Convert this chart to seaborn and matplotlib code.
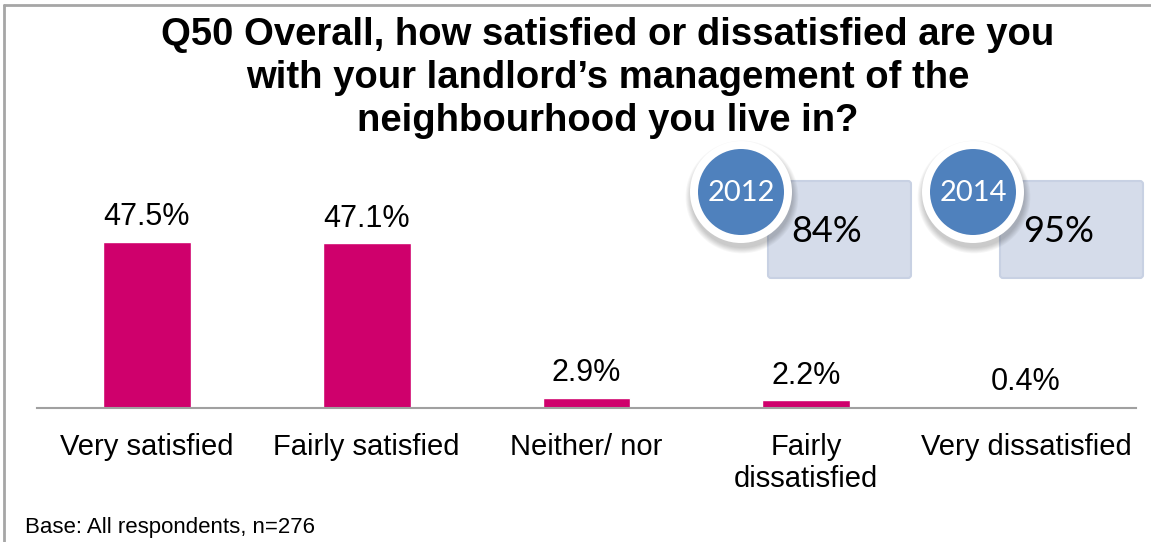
import matplotlib
matplotlib.use("Agg")
import matplotlib.pyplot as plt
import seaborn as sns
import pandas as pd
from matplotlib.patches import Circle, FancyBboxPatch

# Survey responses (percent of respondents)
categories = ["Very satisfied", "Fairly satisfied", "Neither/ nor",
              "Fairly\ndissatisfied", "Very dissatisfied"]
percentages = [47.5, 47.1, 2.9, 2.2, 0.4]

# Overall satisfaction by survey year
years = ["2012", "2014"]
overall_satisfaction = [84, 95]

title = ("Q50 Overall, how satisfied or dissatisfied are you\n"
         "with your landlord\u2019s management of the\n"
         "neighbourhood you live in?")
base_note = "Base: All respondents, n=276"

sns.set_theme(style="white")
plt.rcParams["font.family"] = ["Liberation Sans", "DejaVu Sans"]
plt.rcParams["text.color"] = "black"

W, H = 1151, 542
fig = plt.figure(figsize=(W / 100, H / 100), dpi=100)
fig.patch.set_facecolor("white")

ax = fig.add_axes([37 / W, 1 - 408 / H, (1136 - 37) / W, (408 - 150) / H])
df = pd.DataFrame({"category": categories, "pct": percentages})
sns.barplot(data=df, x="category", y="pct", color="#CF006C", width=0.4,
            saturation=1, ax=ax)
ax.set_xlim(-0.5, 4.5)
ax.set_ylim(0, 73.8)
ax.set_xlabel("")
ax.set_ylabel("")
ax.set_yticks([])
for side in ["top", "left", "right"]:
    ax.spines[side].set_visible(False)
ax.spines["bottom"].set_color("#A0A0A0")
ax.spines["bottom"].set_linewidth(1.5)
ax.tick_params(axis="x", length=0, pad=18, labelsize=21, colors="black")
ax.set_facecolor("none")

for bar, v in zip(ax.patches, percentages):
    ax.annotate(f"{v}%", (bar.get_x() + bar.get_width() / 2, v),
                xytext=(0, 12), textcoords="offset points",
                ha="center", va="baseline", fontsize=22, color="black")

# Overlay in pixel units for badges and frame
ov = fig.add_axes([0, 0, 1, 1], zorder=5)
ov.set_xlim(0, W)
ov.set_ylim(H, 0)
ov.axis("off")
ov.patch.set_alpha(0)

for i, (yr, val) in enumerate(zip(years, overall_satisfaction)):
    cx, cy = 741 + i * 232, 192
    box = FancyBboxPatch((cx + 27, 181), 143, 97,
                         boxstyle="round,pad=0,rounding_size=3",
                         facecolor="#D5DCEA", edgecolor="#C8D1E3", lw=1.5)
    ov.add_patch(box)
    ov.text(cx + 86, 231, f"{val}%", ha="center", va="center",
            fontsize=26, family="Lato", color="black")
    for k in range(7):
        ov.add_patch(Circle((cx + 1, cy + 5), 51 + k * 0.9,
                            facecolor="black", edgecolor="none", alpha=0.03))
    ov.add_patch(Circle((cx, cy), 51, facecolor="white", edgecolor="none"))
    ov.add_patch(Circle((cx, cy), 43, facecolor="#4F81BD", edgecolor="none"))
    ov.text(cx, cy + 1, yr, ha="center", va="center", fontsize=21,
            family="Lato", color="white")

# Frame lines
ov.plot([4, 4], [5, H + 5], color="#A6A6A6", lw=2, clip_on=False)
ov.plot([4, W + 5], [5, 5], color="#A6A6A6", lw=2, clip_on=False)

fig.text(608 / W, 1 - 78 / H, title, ha="center", va="center",
         fontsize=27.5, fontweight="bold", linespacing=1.25, color="black")
fig.text(25 / W, 1 - 527 / H, base_note, ha="left", va="center",
         fontsize=16, color="black")

fig.savefig("out.png", dpi=100)
